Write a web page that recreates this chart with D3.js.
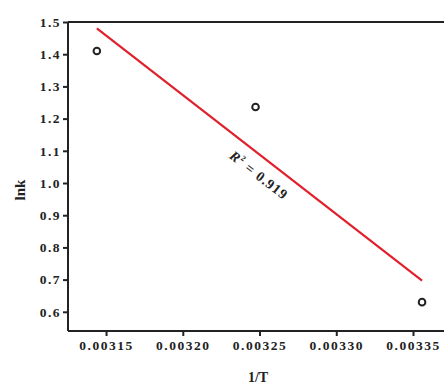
<!DOCTYPE html>
<html>
<head>
  <meta charset="utf-8">
  <style>
    body { margin: 0; background: #fff; }
    text { font-family: "Liberation Serif", "Times New Roman", serif; font-weight: bold; fill: #222; }
  </style>
</head>
<body>
<script src="https://d3js.org/d3.v7.min.js"></script>
<script>

// measured points (1/T vs ln k)
var invT = [0.003144, 0.0032474, 0.0033559];
var lnk  = [1.41, 1.236, 0.630];
var xTicks = [0.00315, 0.00320, 0.00325, 0.00330, 0.00335];
var yTicks = [0.6, 0.7, 0.8, 0.9, 1.0, 1.1, 1.2, 1.3, 1.4, 1.5];
var r2Label = "0.919";

var W = 444, H = 385;
var svg = d3.select("body").append("svg")
            .attr("width", W)
            .attr("height", H);

var x = d3.scaleLinear().domain([0.0031252, 0.0033702]).range([68, 444]);
var y = d3.scaleLinear().domain([0.5404, 1.5]).range([331, 22]);

// least squares fit through the points
var mx = d3.mean(invT), my = d3.mean(lnk);
var sxy = d3.sum(invT, function(d, i) { return (d - mx) * (lnk[i] - my); });
var sxx = d3.sum(invT, function(d) { return (d - mx) * (d - mx); });
var slope = sxy / sxx, icpt = my - slope * mx;
var fit = d3.extent(invT).map(function(v) { return {x: v, y: icpt + slope * v}; });

// top frame line
svg.append("line")
   .attr("x1", 68).attr("x2", W)
   .attr("y1", 22).attr("y2", 22)
   .attr("stroke", "#222").attr("stroke-width", 2);

var xAxis = svg.append("g")
   .attr("transform", "translate(0,331)")
   .call(d3.axisBottom(x).tickValues(xTicks).tickFormat(d3.format(".5f")).tickSize(5).tickPadding(4));
var yAxis = svg.append("g")
   .attr("transform", "translate(68,0)")
   .call(d3.axisLeft(y).tickValues(yTicks).tickFormat(d3.format(".1f")).tickSize(5).tickPadding(2));

[xAxis, yAxis].forEach(function(g) {
  g.select(".domain").attr("stroke", "#222").attr("stroke-width", 2);
  g.selectAll(".tick line").attr("stroke", "#222").attr("stroke-width", 2);
  g.selectAll("text")
   .style("font-family", "'Liberation Serif', serif")
   .style("font-weight", "bold")
   .style("font-size", "13.5px")
   .style("letter-spacing", "1.5px")
   .attr("fill", "#2a2a2a");
});
yAxis.select(".domain").attr("d", "M0,331V22");
xAxis.select(".domain").attr("d", "M68,0H" + W);

var line = d3.line().x(function(d) { return x(d.x); }).y(function(d) { return y(d.y); });
svg.append("path")
   .attr("d", line(fit))
   .attr("stroke", "#e0202c")
   .attr("stroke-width", 2.2)
   .attr("fill", "none");

svg.selectAll("circle.pt")
   .data(invT)
   .enter().append("circle")
   .attr("class", "pt")
   .attr("cx", function(d) { return x(d); })
   .attr("cy", function(d, i) { return y(lnk[i]); })
   .attr("r", 3.3)
   .attr("fill", "none")
   .attr("stroke", "#222")
   .attr("stroke-width", 2);

// R^2 label along the fit line
var ang = Math.atan2(y(fit[1].y) - y(fit[0].y), x(fit[1].x) - x(fit[0].x)) * 180 / Math.PI;
var lab = svg.append("text")
   .attr("transform", "translate(256,179) rotate(" + ang + ")")
   .attr("text-anchor", "middle")
   .style("font-size", "14px")
   .style("letter-spacing", "1px");
lab.append("tspan").style("font-style", "italic").text("R");
lab.append("tspan").attr("dy", -6).style("font-size", "8px").text("2");
lab.append("tspan").attr("dy", 6).text(" = " + r2Label);

svg.append("text")
   .attr("transform", "translate(25,190) rotate(-90)")
   .attr("text-anchor", "middle")
   .style("font-size", "15px")
   .text("lnk");

svg.append("text")
   .attr("x", 258).attr("y", 382)
   .attr("text-anchor", "middle")
   .style("font-size", "14px")
   .text("1/T");

</script>
</body>
</html>
